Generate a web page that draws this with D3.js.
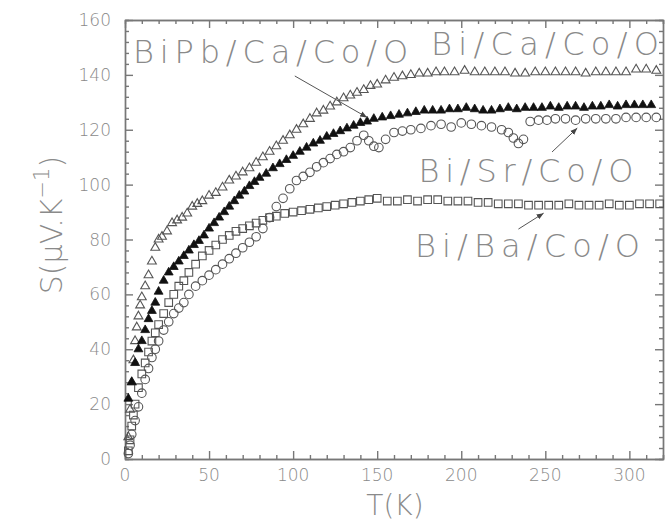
<!DOCTYPE html>
<html>
<head>
<meta charset="utf-8">
<script src="https://cdn.jsdelivr.net/npm/d3@7"></script>
<style>
  body { margin: 0; background: #fff; }
  svg { display: block; }
  .lbl { font-family: "DejaVu Sans", sans-serif; font-weight: 200; fill: #8a8a8a; }
</style>
</head>
<body>
<div id="chart"></div>
<script>
// Bi/Ca/Co/O (open triangles)
var caT = [2,3,4,5,6,7,8,9,10,12,14,16,18,20,22,25,28,31,34,37,40,43,46,50,54,58,62,66,70,74,78,82,86,90,94,98,102,106,110,114,118,122,126,130,134,138,142,146,150,155,160,165,170,175,180,185,190,196,202,208,214,220,226,232,238,244,250,256,262,268,274,280,286,292,298,304,310,316];
var caS = [8,18,28,36,43,48,52,56,59,63,67,72,77,80,81,83,86,87,88,89.5,92,93,94,96,97,99,101.5,103,104.5,106,108,110,112,114,116,118,120,122,124,126,127,128.5,130,131.5,132.5,133.5,134.5,136,136.5,138,139,139.5,140,140.5,140.5,141,141,141,141.5,141,141,141,141,140.5,140.5,141,141,141,141,141,140.5,141,141,141,141,142,142,141.5];

// BiPb/Ca/Co/O (filled triangles)
var pbT = [2,4,6,8,10,12,14,16,18,20,23,26,29,32,35,38,41,44,47,50,53,56,59,62,65,68,71,74,77,80,84,88,92,96,100,104,108,112,116,120,124,128,132,136,140,144,148,153,158,163,168,173,178,183,188,193,198,203,208,213,218,223,228,233,238,243,248,253,258,263,268,273,278,283,288,293,298,303,308,313];
var pbS = [22,28,35,40,43,47,51,54,57,61,65,68,70,72,74,76,78,79.5,81.5,84,86,88,90,92,94,96,97.5,99.5,101,102.5,104,106,107.5,109,110.5,112,113.5,115,116,117.5,118.5,119.5,120.5,121.5,122.5,123,124,124.5,125,125.5,126,126.5,127,127,127,127.5,127.5,128,127.5,127,127,127.5,128,127.5,128,128,128,128.5,128,128.5,128.5,128,128.5,128.5,129,128.5,129,129,129,129];

// Bi/Sr/Co/O (open circles)
var srT = [2,3,4,6,8,10,12,14,16,18,20,23,26,29,32,35,38,42,46,50,54,58,62,66,70,74,78,82,86,90,94,98,102,106,110,114,118,122,126,130,134,138,142,145,148,151,155,160,165,170,176,182,188,194,200,206,212,218,224,228,231,234,237,241,246,251,256,262,268,274,280,286,292,298,304,310,316];
var srS = [2,5,9,14,19,24,29,33,37,40,43,47,50,53,55,57,60,63,65,67,69,71,73,75,77,79,81,84,88,92,95,98.5,101.5,103,104.5,106.5,108,109.5,111,112,113.5,116,118,116,114,113.5,116.5,119,119.5,120,120.5,121.5,122,121,122.5,122,121.5,121,120,119,117,115,116.5,123,123.5,123.5,124,124,123.5,124,124,124,124,124.5,124.5,124.5,124.5];

// Bi/Ba/Co/O (open squares)
var baT = [2,3,4,5,6,8,10,12,14,16,18,20,23,26,29,32,35,38,42,46,50,54,58,62,66,70,74,78,82,86,90,95,100,105,110,115,120,125,130,135,140,145,150,156,162,168,174,180,186,192,198,204,210,216,222,228,234,240,246,252,258,264,270,276,282,288,294,300,306,312,318];
var baS = [3,7,12,16,20,26,31,35,39,43,46,49,53,57,60,63,65,68,71,74,76,78,80,81.5,83,84,85,86,87,88,88.5,89.5,90,90.5,91,91.5,92,92.5,93,93.5,94,94.5,95,94,94,94.5,94,94.5,94.5,94,94,94,93.5,93.5,93,93,93,92.5,92.5,92.5,92.5,93,92.5,92.5,92.5,93,92.5,92.5,93,93,93];

var xTicks = [0,50,100,150,200,250,300];
var yTicks = [0,20,40,60,80,100,120,140,160];

var totWidth = 666, totHeight = 521;

var svg = d3.select("#chart").append("svg")
  .attr("width", totWidth)
  .attr("height", totHeight);

var x = d3.scaleLinear().domain([0, 320]).range([125, 663]);
var y = d3.scaleLinear().domain([0, 160]).range([459, 20]);

var axisColor = "#777";

//-- frame ticks (inward on all four sides)
var xMinor = d3.range(0, 321, 10).filter(function(d){ return d % 50 != 0; });
var yMinor = d3.range(0, 161, 4).filter(function(d){ return d % 20 != 0; });

svg.append("g").attr("transform", "translate(0," + y(0) + ")")
  .call(d3.axisTop(x).tickValues(xMinor).tickSize(4).tickFormat(""));
svg.append("g").attr("transform", "translate(0," + y(0) + ")")
  .call(d3.axisTop(x).tickValues(xTicks).tickSize(8).tickSizeOuter(0).tickFormat(""));
svg.append("g").attr("transform", "translate(0," + y(160) + ")")
  .call(d3.axisBottom(x).tickValues(xMinor).tickSize(4).tickFormat(""));
svg.append("g").attr("transform", "translate(0," + y(160) + ")")
  .call(d3.axisBottom(x).tickValues(xTicks).tickSize(8).tickSizeOuter(0).tickFormat(""));
svg.append("g").attr("transform", "translate(" + x(0) + ",0)")
  .call(d3.axisRight(y).tickValues(yMinor).tickSize(4).tickFormat(""));
svg.append("g").attr("transform", "translate(" + x(0) + ",0)")
  .call(d3.axisRight(y).tickValues(yTicks).tickSize(8).tickSizeOuter(0).tickFormat(""));
svg.append("g").attr("transform", "translate(" + x(320) + ",0)")
  .call(d3.axisLeft(y).tickValues(yMinor).tickSize(4).tickFormat(""));
svg.append("g").attr("transform", "translate(" + x(320) + ",0)")
  .call(d3.axisLeft(y).tickValues(yTicks).tickSize(8).tickSizeOuter(0).tickFormat(""));

svg.selectAll(".domain, .tick line")
  .attr("stroke", axisColor)
  .attr("stroke-width", 1.4);

//-- tick labels
svg.selectAll("xlab").data(xTicks).enter().append("text")
  .attr("class", "lbl")
  .attr("x", function(d){ return x(d); })
  .attr("y", 481)
  .attr("text-anchor", "middle")
  .style("font-size", "17px")
  .text(function(d){ return d; });

svg.selectAll("ylab").data(yTicks).enter().append("text")
  .attr("class", "lbl")
  .attr("x", 111)
  .attr("y", function(d){ return y(d) + 6; })
  .attr("text-anchor", "end")
  .style("font-size", "17px")
  .text(function(d){ return d; });

//-- axis titles
svg.append("text")
  .attr("class", "lbl")
  .attr("x", 395).attr("y", 515)
  .attr("text-anchor", "middle")
  .style("font-size", "28px")
  .text("T(K)");

var yt = svg.append("text")
  .attr("class", "lbl")
  .attr("transform", "translate(62,225) rotate(-90)")
  .attr("text-anchor", "middle")
  .style("font-size", "30px");
yt.append("tspan").text("S(\u03bcV.K");
yt.append("tspan").attr("dy", -13).style("font-size", "21px").text("\u22121");
yt.append("tspan").attr("dy", 13).text(")");

//-- data
function pts(T, S) { return T.map(function(t, i){ return [t, S[i]]; }); }

var sq = d3.symbol().type(d3.symbolSquare).size(58);
var tri = d3.symbol().type(d3.symbolTriangle).size(34);

var plot = svg.append("g");

plot.selectAll("sq").data(pts(baT, baS)).enter().append("path")
  .attr("d", sq)
  .attr("transform", function(d){ return "translate(" + x(d[0]) + "," + y(d[1]) + ")"; })
  .attr("fill", "none").attr("stroke", "#555").attr("stroke-width", 1.1);

plot.selectAll("ci").data(pts(srT, srS)).enter().append("circle")
  .attr("cx", function(d){ return x(d[0]); })
  .attr("cy", function(d){ return y(d[1]); })
  .attr("r", 4.3)
  .attr("fill", "none").attr("stroke", "#555").attr("stroke-width", 1.1);

plot.selectAll("to").data(pts(caT, caS)).enter().append("path")
  .attr("d", tri)
  .attr("transform", function(d){ return "translate(" + x(d[0]) + "," + y(d[1]) + ")"; })
  .attr("fill", "none").attr("stroke", "#555").attr("stroke-width", 1.1);

plot.selectAll("tf").data(pts(pbT, pbS)).enter().append("path")
  .attr("d", tri)
  .attr("transform", function(d){ return "translate(" + x(d[0]) + "," + y(d[1]) + ")"; })
  .attr("fill", "#111").attr("stroke", "#111").attr("stroke-width", 0.8);

//-- labels and arrows
var labels = [
  {t: "BiPb/Ca/Co/O", T: 4.8, S: 144.3, w: 275},
  {t: "Bi/Ca/Co/O", T: 182, S: 147.3, w: 228},
  {t: "Bi/Sr/Co/O", T: 174.5, S: 100.9, w: 215},
  {t: "Bi/Ba/Co/O", T: 172.5, S: 73.5, w: 225}
];
svg.selectAll("big").data(labels).enter().append("text")
  .attr("class", "lbl")
  .attr("x", function(d){ return x(d.T); })
  .attr("y", function(d){ return y(d.S); })
  .attr("textLength", function(d){ return d.w; })
  .attr("lengthAdjust", "spacing")
  .style("font-size", "32px")
  .text(function(d){ return d.t; });

svg.append("defs").append("marker")
  .attr("id", "ah")
  .attr("viewBox", "0 0 10 10")
  .attr("refX", 10).attr("refY", 5)
  .attr("markerWidth", 7).attr("markerHeight", 7)
  .attr("markerUnits", "userSpaceOnUse")
  .attr("orient", "auto")
  .append("path").attr("d", "M0,1 L10,5 L0,9 Z").attr("fill", "#444");

var arrows = [
  [[101, 139.6], [144, 124.5]],
  [[254, 111.9], [269, 120.6]],
  [[234, 83.8], [249, 89.6]]
];
svg.selectAll("arr").data(arrows).enter().append("line")
  .attr("x1", function(d){ return x(d[0][0]); })
  .attr("y1", function(d){ return y(d[0][1]); })
  .attr("x2", function(d){ return x(d[1][0]); })
  .attr("y2", function(d){ return y(d[1][1]); })
  .attr("stroke", "#555").attr("stroke-width", 1)
  .attr("marker-end", "url(#ah)");
</script>
</body>
</html>
